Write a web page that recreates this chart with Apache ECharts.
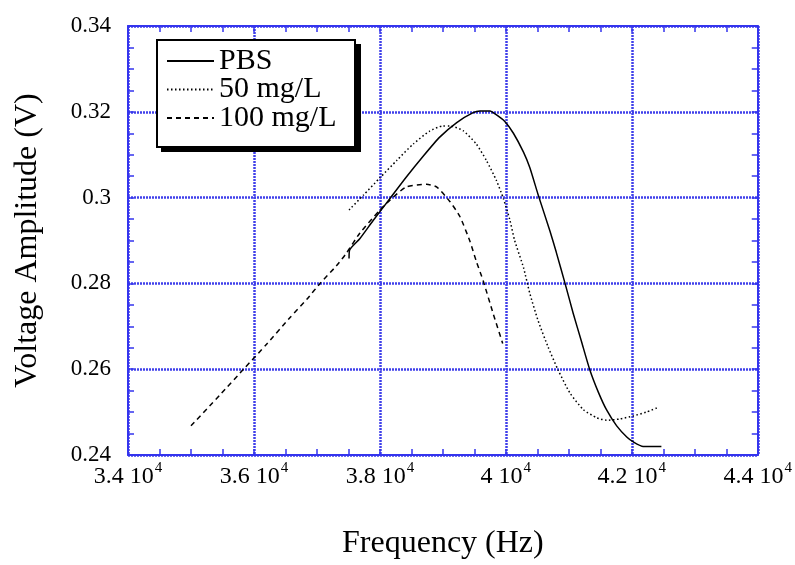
<!DOCTYPE html>
<html>
<head>
<meta charset="utf-8">
<script src="https://cdn.jsdelivr.net/npm/echarts@6/dist/echarts.min.js"></script>
<style>
html,body{margin:0;padding:0;background:#fff;}
#chart{width:795px;height:565px;}
</style>
</head>
<body>
<div id="chart"></div>
<script>
// ---- data ----
const seriesNames = ['PBS', '50 mg/L', '100 mg/L'];

const pbsFreq = [37510, 37520, 37680, 37890, 38160, 38420, 38690, 38950, 39220, 39480, 39590, 39750, 39830, 39980, 40120, 40280, 40380, 40510, 40700, 40800, 40940, 41070, 41200, 41330, 41470, 41600, 41760, 41920, 42020, 42180, 42470];
const pbsAmp  = [0.2858, 0.2878, 0.2904, 0.2946, 0.2998, 0.3048, 0.3097, 0.3141, 0.3175, 0.3198, 0.3202, 0.3202, 0.3195, 0.3178, 0.3150, 0.3106, 0.3070, 0.3008, 0.2922, 0.2873, 0.2800, 0.2730, 0.2665, 0.2600, 0.2546, 0.2505, 0.2468, 0.2442, 0.2431, 0.2420, 0.2420];

const mg50Freq = [37510, 37740, 38000, 38270, 38530, 38790, 39000, 39110, 39320, 39530, 39690, 39850, 39960, 40060, 40140, 40280, 40380, 40510, 40670, 40830, 41020, 41230, 41440, 41600, 41810, 42020, 42230, 42420];
const mg50Amp  = [0.2971, 0.3006, 0.3046, 0.3087, 0.3125, 0.3155, 0.3167, 0.3167, 0.3156, 0.3125, 0.3087, 0.3040, 0.2998, 0.2950, 0.2900, 0.2837, 0.2777, 0.2714, 0.2652, 0.2598, 0.2544, 0.2506, 0.2487, 0.2481, 0.2484, 0.2491, 0.2500, 0.2511];

const mg100Freq = [35000, 35460, 35860, 36200, 36570, 36840, 37050, 37310, 37470, 37680, 38000, 38160, 38420, 38740, 38900, 39110, 39270, 39430, 39530, 39640, 39800, 39950];
const mg100Amp  = [0.2468, 0.2540, 0.2604, 0.2658, 0.2720, 0.2763, 0.2800, 0.2841, 0.2871, 0.2917, 0.2971, 0.2994, 0.3025, 0.3031, 0.3025, 0.2991, 0.2956, 0.2898, 0.2852, 0.2806, 0.2729, 0.2660];

const xTicks = [34000, 36000, 38000, 40000, 42000, 44000];
const yTicks = [0.24, 0.26, 0.28, 0.30, 0.32, 0.34];

const xName = 'Frequency (Hz)';
const yName = 'Voltage Amplitude (V)';

// ---- chart ----
const FONT = '"Liberation Serif", "Times New Roman", serif';
const BLUE = '#3434ee';
const GRIDBLUE = '#4040ea';

function pairs(xs, ys) { return xs.map((x, i) => [x, ys[i]]); }

const chart = echarts.init(document.getElementById('chart'), null, {renderer: 'canvas'});

const xMin = xTicks[0], xMax = xTicks[xTicks.length - 1], xInt = xTicks[1] - xTicks[0];
const yMin = yTicks[0], yMax = yTicks[yTicks.length - 1], yInt = +(yTicks[1] - yTicks[0]).toFixed(4);

function xLabel(v) {
  return '{a|' + (+(v / 10000).toFixed(1)) + ' 10}{s|4}';
}

const commonTick = {show: true, inside: true, length: 6, lineStyle: {color: BLUE, width: 1.5}};
const commonMinor = {show: true, splitNumber: 4, length: 6, lineStyle: {color: BLUE, width: 1.5}};
const gridLine = {show: true, lineStyle: {color: GRIDBLUE, width: 2.5, type: [2, 1]}};

chart.setOption({
  animation: false,
  backgroundColor: '#fff',
  grid: {left: 128, top: 26, width: 630, height: 433, containLabel: false},
  graphic: [
    {type: 'rect', z: 5, shape: {x: 161, y: 44, width: 200, height: 108}, style: {fill: '#000'}},
    {type: 'rect', z: 6, shape: {x: 157, y: 40, width: 198, height: 107}, style: {fill: '#fff', stroke: '#000', lineWidth: 2}}
  ],
  legend: {
    data: seriesNames,
    orient: 'vertical',
    left: 157, top: 40, z: 10,
    padding: [6, 6, 12, 9],
    itemGap: -1.5,
    itemWidth: 47, itemHeight: 14,
    itemStyle: {opacity: 0},
    textStyle: {fontFamily: FONT, fontSize: 30, color: '#000'}
  },
  xAxis: [{
    type: 'value', min: xMin, max: xMax, interval: xInt,
    position: 'bottom',
    name: xName, nameLocation: 'middle', nameGap: 73,
    nameTextStyle: {fontFamily: FONT, fontSize: 32, color: '#000'},
    axisLine: {show: true, lineStyle: {color: BLUE, width: 2}},
    axisTick: commonTick,
    minorTick: commonMinor,
    splitLine: gridLine,
    axisLabel: {
      margin: 6,
      formatter: xLabel,
      rich: {
        a: {fontFamily: FONT, fontSize: 24, lineHeight: 32, color: '#000'},
        s: {fontFamily: FONT, fontSize: 15, color: '#000', verticalAlign: 'top', padding: [0, 0, 0, 1]}
      }
    }
  }, {
    type: 'value', min: xMin, max: xMax, interval: xInt,
    position: 'top',
    axisLine: {show: true, lineStyle: {color: BLUE, width: 2}},
    axisTick: commonTick,
    minorTick: commonMinor,
    splitLine: {show: false},
    axisLabel: {show: false}
  }],
  yAxis: [{
    type: 'value', min: yMin, max: yMax, interval: yInt,
    position: 'left',
    name: yName, nameLocation: 'middle', nameGap: 84, nameRotate: 90,
    nameTextStyle: {fontFamily: FONT, fontSize: 32, color: '#000'},
    axisLine: {show: true, lineStyle: {color: BLUE, width: 2}},
    axisTick: commonTick,
    minorTick: commonMinor,
    splitLine: gridLine,
    axisLabel: {margin: 17, fontFamily: FONT, fontSize: 23, color: '#000'}
  }, {
    type: 'value', min: yMin, max: yMax, interval: yInt,
    position: 'right',
    axisLine: {show: true, lineStyle: {color: BLUE, width: 2}},
    axisTick: commonTick,
    minorTick: commonMinor,
    splitLine: {show: false},
    axisLabel: {show: false}
  }],
  series: [{
    name: seriesNames[0], type: 'line', symbol: 'none', smooth: 0.2,
    data: pairs(pbsFreq, pbsAmp),
    lineStyle: {color: '#000', width: 1.5, type: 'solid'},
    itemStyle: {color: '#000'}
  }, {
    name: seriesNames[1], type: 'line', symbol: 'none', smooth: 0.2,
    data: pairs(mg50Freq, mg50Amp),
    lineStyle: {color: '#000', width: 1.5, type: [1.5, 2.5]},
    itemStyle: {color: '#000'}
  }, {
    name: seriesNames[2], type: 'line', symbol: 'none', smooth: 0.2,
    data: pairs(mg100Freq, mg100Amp),
    lineStyle: {color: '#000', width: 1.5, type: [5, 4]},
    itemStyle: {color: '#000'}
  }]
});
</script>
</body>
</html>
